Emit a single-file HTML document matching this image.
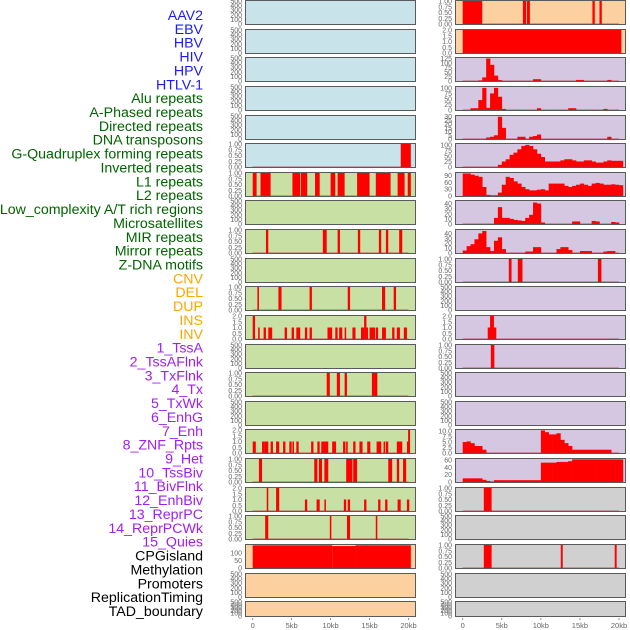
<!DOCTYPE html>
<html><head><meta charset="utf-8"><style>
html,body{margin:0;padding:0;background:#fff;}
svg{display:block;font-family:"Liberation Sans",sans-serif;}
</style></head><body>
<svg id="chart" width="630" height="630" viewBox="0 0 630 630" xmlns="http://www.w3.org/2000/svg">
<g id="labels"></g>
<g id="panels"></g>
<g id="xaxis"></g>
</svg>
<script>
// ---- data ----
const trackLabels = ["AAV2","EBV","HBV","HIV","HPV","HTLV-1","Alu repeats","A-Phased repeats","Directed repeats","DNA transposons","G-Quadruplex forming repeats","Inverted repeats","L1 repeats","L2 repeats","Low_complexity A/T rich regions","Microsatellites","MIR repeats","Mirror repeats","Z-DNA motifs","CNV","DEL","DUP","INS","INV","1_TssA","2_TssAFlnk","3_TxFlnk","4_Tx","5_TxWk","6_EnhG","7_Enh","8_ZNF_Rpts","9_Het","10_TssBiv","11_BivFlnk","12_EnhBiv","13_ReprPC","14_ReprPCWk","15_Quies","CPGisland","Methylation","Promoters","ReplicationTiming","TAD_boundary"];
const labelGroups = ["v","v","v","v","v","v","r","r","r","r","r","r","r","r","r","r","r","r","r","c","c","c","c","c","s","s","s","s","s","s","s","s","s","s","s","s","s","s","s","o","o","o","o","o"];
const xTickValues = [0,5,10,15,20];
const xTickLabels = ["0","5kb","10kb","15kb","20kb"];
const ticks500 = [0,100,200,300,400,500];
const ticks1 = [0,0.25,0.5,0.75,1];
const ticks2 = [0,0.5,1,1.5,2];
// left column segments [start kb, end kb, height]
const left5 = [[19.0,20.3,1]];
const left6 = [[0,0.5,1],[1.0,2.3,1],[5.1,6.1,1],[6.2,7.0,1],[8.0,8.6,1],[10.0,10.6,1],[10.9,11.8,1],[13.4,15.0,1],[15.8,17.7,1],[18.6,19.5,1],[19.9,20.3,1]];
const left8 = [[1.7,2.0,1],[9.0,9.5,1],[10.9,11.2,1],[13.5,13.8,1],[16.2,16.5,1],[17.1,17.4,1],[18.8,19.2,1]];
const left10 = [[0.6,0.8,1],[3.3,3.7,1],[7.3,7.6,1],[12.2,12.5,1],[16.6,17.0,1],[18.1,18.4,1]];
const left11 = [[0,0.3,2],[0.7,0.9,1],[1.4,1.7,1],[2.0,2.5,1],[4.1,4.4,1],[5.0,5.3,1],[5.6,6.1,1],[6.7,7.0,1],[7.3,7.6,1],[9.6,10.2,1],[10.6,10.9,1],[11.1,11.5,1],[11.8,12.0,1],[12.8,13.2,1],[13.9,14.3,1],[14.3,14.6,2],[14.6,14.8,1],[15.0,15.7,1],[15.8,16.1,1],[16.6,17.1,1],[17.9,18.2,1],[18.5,18.9,1],[19.4,19.8,1]];
const left13 = [[9.5,9.9,1],[10.8,11.2,1],[11.8,12.1,1],[15.3,16.0,1]];
const left15 = [[0,0.4,1],[1.2,1.5,1],[1.5,2.0,1],[2.3,2.6,1],[3.0,3.4,1],[3.9,4.2,1],[4.7,5.0,1],[5.1,5.3,1],[5.6,5.9,1],[7.5,7.8,1],[8.3,8.6,1],[8.8,9.7,1],[10.2,10.7,1],[11.6,11.9,1],[12.0,12.2,1],[12.9,13.2,1],[13.7,14.1,1],[14.7,15.1,1],[15.9,16.5,1],[16.8,17.0,1],[17.1,17.4,1],[18.5,19.2,1],[19.8,19.95,1],[19.95,20.2,2]];
const left16 = [[0.8,1.2,1],[7.9,8.3,1],[8.5,8.9,1],[9.2,9.7,1],[12.0,12.8,1],[12.9,13.4,1],[17.4,17.9,1],[18.5,18.8,1],[19.3,19.7,1]];
const left17 = [[1.8,2.0,2],[3.0,3.4,2],[6.7,7.0,1],[8.2,8.6,1],[9.2,9.4,1],[11.7,12.0,1],[12.2,12.5,1],[14.3,14.6,1],[16.1,16.4,1],[17.0,17.3,1],[18.6,19.0,1],[19.8,20.1,1]];
const left18 = [[1.6,2.0,1],[9.9,10.1,1],[12.1,12.5,1],[15.8,16.0,1]];
const left19 = [[0,10.2,150],[10.2,13.2,145],[13.2,20.3,150]];
// right column segments
const right0 = [[0,2.5,1],[7.7,8.1,1],[8.2,8.6,1],[16.6,16.9,1],[17.5,17.8,1]];
const right1 = [[0,20.3,2]];
const right9 = [[5.9,6.25,1],[7.05,7.65,1],[17.3,17.75,1]];
const right11 = [[3.2,4.3,1],[3.5,4.0,2]];
const right12 = [[3.6,4.05,1]];
const right17 = [[2.7,3.7,1]];
const right19 = [[2.7,3.7,1],[12.55,12.8,1],[19.45,19.7,1]];
// right column histograms (0.5kb bins from 0)
const hist2 = [0,0,0,0,3,20,125,90,30,5,0,0,0,0,0,0,0,0,10,10,0,0,0,0,0,0,0,0,0,6,6,0,0,0,0,0,0,6,0,0,0];
const hist3 = [0,0,8,8,45,100,10,75,100,60,5,0,0,0,0,0,0,0,0,8,0,0,0,0,0,0,0,8,8,0,0,0,0,0,0,0,5,0,0,0,0];
const hist4 = [0,0,0,0,0,0,2,3,5,30,15,0,0,0,3,3,0,3,4,6,0,0,0,0,0,0,0,0,0,0,0,0,0,0,0,0,0,3,0,0,0];
const hist5 = [0,0,0,0,0,0,0,0,0,10,25,35,55,65,80,95,100,95,80,60,45,25,25,25,25,30,35,35,30,25,25,30,30,25,20,20,25,30,28,28,28];
const hist6 = [100,100,95,90,85,40,5,3,3,15,50,85,80,65,55,40,30,25,25,28,30,25,55,55,55,55,45,40,45,50,55,50,45,55,58,55,50,50,52,50,48];
const hist7 = [0,0,0,0,0,0,0,0,12,33,12,12,10,8,7,6,12,18,42,40,3,0,0,0,0,0,0,0,5,5,0,0,0,6,5,0,0,0,4,3,0];
const hist8 = [5,14,18,28,40,45,12,4,25,32,8,0,0,0,0,0,3,3,12,12,0,0,0,0,8,12,12,6,0,0,4,4,4,0,0,0,3,4,4,0,0];
const hist15 = [5,5.3,4.5,3.2,3.2,1.5,0,0,0,0,0,0,0,0,0,0,0,0,0,0,10.3,9.5,8.5,8.5,9,6,4.5,3.2,1.5,1.5,1.5,1.5,1.5,1.5,1.5,1.5,1.5,1.5,0,0,0];
const hist16 = [10,10,10,10,10,6,3,1,5,5,5,5,5,5,5,5,5,5,5,5,53,53,53,53,55,55,55,57,62,62,62,62,62,62,62,62,62,62,62,62,62];

const BG = {b:"#c9e3eb", g:"#c9e0a5", o:"#fdd19f", p:"#d5c7e2", y:"#d0d0d0"};
const leftBg  = ["b","b","b","b","b","b","g","g","g","g","g","g","g","g","g","g","g","g","g","o","o","o"];
const rightBg = ["o","o","p","p","p","p","p","p","p","p","p","p","p","p","p","p","p","y","y","y","y","y"];
const E = {kind:"empty", max:500, ticks:ticks500, fmt:0};
const S1 = d => ({kind:"seg", data:d, max:1, ticks:ticks1, fmt:2});
const S2 = d => ({kind:"seg", data:d, max:2, ticks:ticks2, fmt:1});
const H = (d,max,t) => ({kind:"hist", data:d, max:max, ticks:t, fmt:0});
const leftTracks = [E,E,E,E,E,S1(left5),S1(left6),E,S1(left8),E,S1(left10),S2(left11),E,S1(left13),E,S2(left15),S1(left16),S2(left17),S1(left18),
  {kind:"seg",data:left19,max:152,ticks:[0,50,100],fmt:0},E,E];
const rightTracks = [S1(right0),S2(right1),H(hist2,128,[0,25,50,75,100,125]),H(hist3,104,[0,25,50,75,100]),H(hist4,31,[0,5,10,15,20,25,30]),
  H(hist5,104,[0,25,50,75,100]),H(hist6,102,[0,30,60,90]),H(hist7,45,[0,10,20,30,40]),H(hist8,47,[0,10,20,30,40]),S1(right9),E,S2(right11),S1(right12),E,E,
  {kind:"hist",data:hist15,max:10.5,ticks:[0,2.5,5,7.5,10],fmt:1},H(hist16,63,[0,20,40,60]),S1(right17),E,S1(right19),E,E];

// ---- drawing ----
const NS = "http://www.w3.org/2000/svg";
function mk(tag, attrs, parent){const e=document.createElementNS(NS,tag);for(const k in attrs)e.setAttribute(k,attrs[k]);parent.appendChild(e);return e;}
const colColors = {v:"#1a1aff", r:"#006400", c:"#ffa500", s:"#a020f0", o:"#000000"};
const labG = document.getElementById("labels");
trackLabels.forEach((t,i)=>{
  const el = mk("text",{x:203,y:15+i*13.86+5,"text-anchor":"end","font-size":"14.2",fill:colColors[labelGroups[i]]},labG);
  el.textContent = t;
  
  
});
const cols = [{px0:245,px1:416,x0:252.7,x1:408.5,bg:leftBg,tracks:leftTracks,name:"left"},
              {px0:455,px1:626,x0:462.7,x1:619,bg:rightBg,tracks:rightTracks,name:"right"}];
const panG = document.getElementById("panels");
function fmtTick(v,f){return v.toFixed(f);}
cols.forEach(c=>{
  const xs = kb => c.x0 + (c.x1-c.x0)*kb/20;
  c.tracks.forEach((tr,i)=>{
    const top = Math.round(i*28.63);
    const h = i===21 ? 16 : 25;
    const g = mk("g",{},panG);
    
    
    mk("rect",{x:c.px0,y:top,width:c.px1-c.px0,height:h,fill:BG[c.bg[i]]},g);
    const ys = v => top + h - 1 - (h-2)*v/tr.max;
    tr.ticks.forEach(t=>{
      const tt = mk("text",{x:c.px0-3,y:ys(t)+2.5,"text-anchor":"end","font-size":"7",fill:"#666"},g);
      tt.textContent = fmtTick(t,tr.fmt);
      
      
    });
    if(tr.kind==="seg"){
      tr.data.forEach(s=>{
        const r = mk("rect",{x:xs(s[0]),y:ys(s[2]),width:Math.max(1.5,xs(s[1])-xs(s[0])),height:ys(0)-ys(s[2])+1,fill:"#ff0000"},g);
        
        
      });
    } else if(tr.kind==="hist"){
      tr.data.forEach((v,k)=>{
        if(v<=0) return;
        const r = mk("rect",{x:xs(k*0.5),y:ys(v),width:xs(0.5)-xs(0)+0.3,height:ys(0)-ys(v)+1,fill:"#ff0000"},g);
        
        
      });
    }
    if(tr.kind!=="empty") mk("line",{x1:xs(0),x2:xs(20),y1:ys(0),y2:ys(0),stroke:"rgba(170,40,40,0.45)","stroke-width":1.5},g);
    mk("rect",{x:c.px0+0.5,y:top+0.5,width:c.px1-c.px0-1,height:h-1,fill:"none",stroke:"#5a5a5a","stroke-width":1},g);
  });
  const ax = document.getElementById("xaxis");
  xTickValues.forEach((v,k)=>{
    mk("line",{x1:xs(v),x2:xs(v),y1:618,y2:620,stroke:"#777","stroke-width":0.8},ax);
    const t = mk("text",{x:xs(v),y:628,"text-anchor":"middle","font-size":"7.5",fill:"#666"},ax);
    t.textContent = xTickLabels[k];
    
    
  });
});
</script>
</body></html>
